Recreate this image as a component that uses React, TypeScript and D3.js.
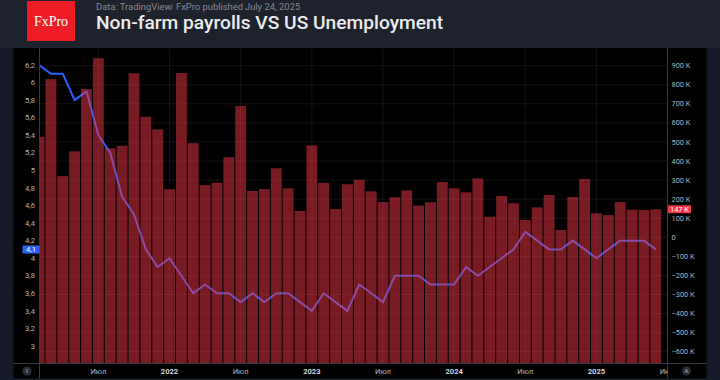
import React from "react";
import * as d3 from "d3";

// ---- data ----
const months: string[] = [
  "2021-02","2021-03","2021-04","2021-05","2021-06","2021-07","2021-08","2021-09","2021-10","2021-11","2021-12",
  "2022-01","2022-02","2022-03","2022-04","2022-05","2022-06","2022-07","2022-08","2022-09","2022-10","2022-11","2022-12",
  "2023-01","2023-02","2023-03","2023-04","2023-05","2023-06","2023-07","2023-08","2023-09","2023-10","2023-11","2023-12",
  "2024-01","2024-02","2024-03","2024-04","2024-05","2024-06","2024-07","2024-08","2024-09","2024-10","2024-11","2024-12",
  "2025-01","2025-02","2025-03","2025-04","2025-05","2025-06",
];

// Non-farm payrolls, thousands
const payrolls: number[] = [
  527, 830, 321, 451, 778, 939, 467, 480, 860, 632,
  566, 252, 862, 494, 274, 286, 420, 689, 243, 253,
  362, 257, 138, 482, 286, 148, 278, 302, 241, 185,
  210, 246, 166, 184, 290, 257, 236, 309, 108, 217,
  178, 91, 157, 222, 38, 211, 306, 126, 117, 185,
  145, 143, 147,
];

// US unemployment rate, %
const unemployment: number[] = [
  6.2, 6.1, 6.1, 5.8, 5.9, 5.4, 5.2, 4.7, 4.5, 4.1,
  3.9, 4.0, 3.8, 3.6, 3.7, 3.6, 3.6, 3.5, 3.6, 3.5,
  3.6, 3.6, 3.5, 3.4, 3.6, 3.5, 3.4, 3.7, 3.6, 3.5,
  3.8, 3.8, 3.8, 3.7, 3.7, 3.7, 3.9, 3.8, 3.9, 4.0,
  4.1, 4.3, 4.2, 4.1, 4.1, 4.2, 4.1, 4.0, 4.1, 4.2,
  4.2, 4.2, 4.1,
];

const xTickMonths: string[] = ["2021-07","2022-01","2022-07","2023-01","2023-07","2024-01","2024-07","2025-01","2025-07"];
const xTickLabels: string[] = ["Июл","2022","Июл","2023","Июл","2024","Июл","2025","Июл"];

const leftTicks: number[] = [3, 3.2, 3.4, 3.6, 3.8, 4, 4.2, 4.4, 4.6, 4.8, 5, 5.2, 5.4, 5.6, 5.8, 6, 6.2];
const rightTicks: number[] = [-600, -500, -400, -300, -200, -100, 0, 100, 200, 300, 400, 500, 600, 700, 800, 900];

const lastRateLabel = "4,1";
const lastPayrollLabel = "147 K";

// ---- layout ----
const W = 720, H = 380;
const plotL = 39.5, plotR = 667.5, plotT = 48.5, plotB = 363;
const FONT = "Roboto, 'Noto Sans', sans-serif";

export default function App() {
  const x = d3.scaleLinear().domain([0, months.length - 1]).range([39.07, 655.79]);
  const step = x(1) - x(0);
  const yL = d3.scaleLinear().domain([3, 6.2]).range([346, 65]);
  const yR = d3.scaleLinear().domain([-600, 900]).range([351.7, 65.7]);

  const line = d3
    .line<number>()
    .x((_, i) => x(i))
    .y((d) => yL(d));

  const monthIndex = (m: string) => {
    const [yy, mm] = m.split("-").map(Number);
    return (yy - 2021) * 12 + (mm - 2);
  };

  const fmtL = (v: number) => String(Math.round(v * 10) / 10).replace(".", ",");
  const fmtR = (v: number) => (v === 0 ? "0" : v < 0 ? `\u2212${-v} K` : `${v} K`);

  const lastRate = unemployment[unemployment.length - 1];
  const lastPay = payrolls[payrolls.length - 1];

  const grid = "rgba(255,255,255,0.07)";
  const sep = "#363a45";
  const tickColor = "#b2b5be";

  return (
    <svg width={W} height={H} style={{ position: "absolute", left: 0, top: 0 }} xmlns="http://www.w3.org/2000/svg">
      <defs>
        <clipPath id="plotClip">
          <rect x={plotL} y={plotT} width={plotR - plotL} height={plotB - plotT} />
        </clipPath>
        <clipPath id="xAxisClip">
          <rect x={plotL} y={plotB} width={plotR - plotL} height={16} />
        </clipPath>
      </defs>

      {/* backgrounds */}
      <rect x={0} y={0} width={W} height={H} fill="#1e222d" />
      <rect x={0} y={48} width={13.5} height={H - 48} fill="#151b2a" />
      <rect x={706.5} y={48} width={W - 706.5} height={H - 48} fill="#151b2a" />
      <rect x={13.5} y={48} width={693} height={330.5} fill="#000000" />

      {/* header */}
      <rect x={27} y={1} width={48} height={40} fill="#ee1c25" />
      <text x={51} y={25.5} textAnchor="middle" fill="#ffffff" fontFamily="'Liberation Serif', 'DejaVu Serif', serif" fontSize={14}>
        FxPro
      </text>
      <text x={96} y={9.8} fill="#868993" fontFamily={FONT} fontSize={9.4}>
        Data: TradingView
      </text>
      <line x1={172} x2={172} y1={4} y2={10} stroke="#5d606b" strokeWidth={0.8} />
      <text x={176} y={9.8} fill="#868993" fontFamily={FONT} fontSize={9.4}>
        FxPro published
      </text>
      <text x={245} y={9.8} fill="#868993" fontFamily={FONT} fontSize={9.4}>
        July 24, 2025
      </text>
      <text x={96} y={29.3} fill="#ececee" fontFamily={FONT} fontSize={19.2} fontWeight={500}>
        Non-farm payrolls VS US Unemployment
      </text>

      {/* grid */}
      <g>
        {rightTicks.map((t) => (
          <line key={"h" + t} x1={plotL} x2={plotR} y1={yR(t)} y2={yR(t)} stroke={grid} strokeWidth={1} />
        ))}
        <g clipPath="url(#plotClip)">
          {xTickMonths.map((m) => (
            <line key={"v" + m} x1={x(monthIndex(m))} x2={x(monthIndex(m))} y1={plotT} y2={plotB} stroke={grid} strokeWidth={1} />
          ))}
        </g>
      </g>

      {/* unemployment line (drawn under translucent bars) */}
      <g clipPath="url(#plotClip)">
        <path d={line(unemployment) || ""} fill="none" stroke="#2962ff" strokeWidth={2} strokeLinejoin="round" />
        {/* payroll columns */}
        {payrolls.map((v, i) => (
          <rect
            key={months[i]}
            x={x(i) - step / 2 + 0.5}
            y={yR(v)}
            width={step - 1}
            height={plotB - yR(v)}
            fill="rgba(242,54,69,0.5)"
          />
        ))}
      </g>

      {/* separators */}
      <line x1={plotL} x2={plotL} y1={48} y2={378.5} stroke={sep} strokeWidth={1} />
      <line x1={plotR} x2={plotR} y1={48} y2={378.5} stroke={sep} strokeWidth={1} />
      <line x1={13.5} x2={706.5} y1={plotB + 0.5} y2={plotB + 0.5} stroke={sep} strokeWidth={1} />

      {/* left axis */}
      {leftTicks.map((t) => (
        <text key={"l" + t} x={35} y={yL(t)} dy="0.35em" textAnchor="end" fill={tickColor} fontFamily={FONT} fontSize={7.6}>
          {fmtL(t)}
        </text>
      ))}
      <rect x={22.5} y={yL(lastRate) - 4} width={17} height={8} fill="#2962ff" rx={1} />
      <text x={31} y={yL(lastRate)} dy="0.35em" textAnchor="middle" fill="#ffffff" fontFamily={FONT} fontSize={7.6}>
        {lastRateLabel}
      </text>

      {/* right axis */}
      {rightTicks.map((t) => (
        <text key={"r" + t} x={671.5} y={yR(t)} dy="0.35em" fill={tickColor} fontFamily={FONT} fontSize={7.4}>
          {fmtR(t)}
        </text>
      ))}
      <rect x={668} y={yR(lastPay) - 4} width={23} height={8} fill="#f23645" rx={1} />
      <text x={679.5} y={yR(lastPay)} dy="0.35em" textAnchor="middle" fill="#ffffff" fontFamily={FONT} fontSize={7.4}>
        {lastPayrollLabel}
      </text>

      {/* x axis labels */}
      <g clipPath="url(#xAxisClip)">
        {xTickMonths.map((m, k) => {
          const isYear = !xTickLabels[k].startsWith("И");
          return (
            <text
              key={"x" + m}
              x={x(monthIndex(m))}
              y={371}
              dy="0.35em"
              textAnchor="middle"
              fill={isYear ? "#d1d4dc" : tickColor}
              fontWeight={isYear ? 700 : 400}
              fontFamily={FONT}
              fontSize={7.6}
            >
              {xTickLabels[k]}
            </text>
          );
        })}
      </g>

      {/* corner icons */}
      <circle cx={27} cy={371} r={4.5} fill="#2a2e39" />
      <line x1={27} x2={27} y1={369} y2={373} stroke="#9598a1" strokeWidth={1} />
      <circle cx={686.5} cy={371} r={4.5} fill="#2a2e39" />
      <text x={686.5} y={371} dy="0.35em" textAnchor="middle" fill="#b2b5be" fontFamily={FONT} fontSize={6}>
        A
      </text>
    </svg>
  );
}
